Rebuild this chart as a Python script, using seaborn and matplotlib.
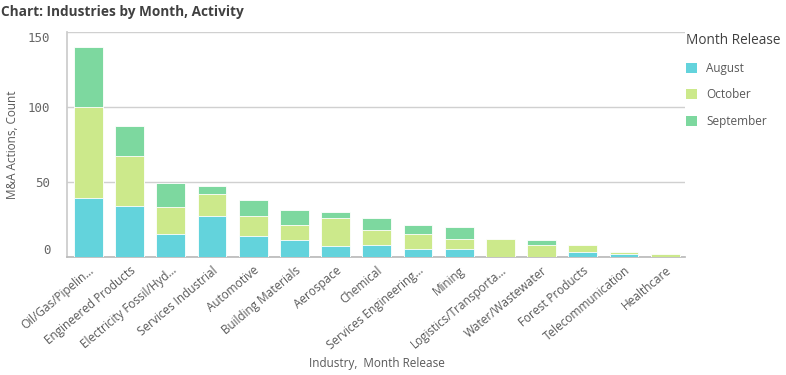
import matplotlib
matplotlib.use("Agg")
import matplotlib.pyplot as plt
import numpy as np
import pandas as pd
import seaborn as sns
from matplotlib.patches import Patch

industries = [
    "Oil/Gas/Pipelin…", "Engineered Products", "Electricity Fossil/Hyd…",
    "Services Industrial", "Automotive", "Building Materials", "Aerospace",
    "Chemical", "Services Engineering…", "Mining", "Logistics/Transporta…",
    "Water/Wastewater", "Forest Products", "Telecommunication", "Healthcare",
]
august = [39, 34, 15, 27, 14, 11, 7, 8, 5, 5, 0, 0, 3, 2, 0]
october = [61, 33, 18, 15, 13, 10, 19, 10, 10, 7, 12, 8, 5, 1, 2]
september = [40, 20, 16, 5, 11, 10, 4, 8, 6, 8, 0, 3, 0, 0, 0]

months = ["August", "October", "September"]
colors = {"August": "#63d3dc", "October": "#cce98b", "September": "#7dd89f"}

sns.set_theme(style="white")
plt.rcParams["font.family"] = ["Open Sans", "DejaVu Sans"]

df = pd.DataFrame({"Industry": industries, "August": august,
                   "October": october, "September": september})
df["lvl_aug"] = df["August"]
df["lvl_oct"] = df["August"] + df["October"]
df["lvl_sep"] = df["lvl_oct"] + df["September"]

fig = plt.figure(figsize=(7.86, 3.75), dpi=100)
ax = fig.add_axes([0.0852, 0.3147, 0.7863, 0.6])

# stacked look: draw cumulative totals back to front
for col, m in [("lvl_sep", "September"), ("lvl_oct", "October"), ("lvl_aug", "August")]:
    sns.barplot(data=df, x="Industry", y=col, color=colors[m], width=0.7,
                edgecolor="white", linewidth=0.6, saturation=1, ax=ax, zorder=3)

ax.set_xlim(-0.52, 14.48)
ax.set_ylim(0, 150)
ax.set_yticks([0, 50, 100, 150])
ax.yaxis.grid(True, color="#d0d0d0", linewidth=1)
ax.set_axisbelow(True)
for s in ["top", "right"]:
    ax.spines[s].set_visible(False)
ax.spines["left"].set_color("#cccccc")
ax.spines["bottom"].set_color("#bbbbbb")
ax.tick_params(axis="both", length=0, colors="#595959")
ax.tick_params(axis="y", pad=12)
ylabs = ax.get_yticklabels()
for lab in ylabs:
    lab.set_fontfamily("DejaVu Sans Mono")
    lab.set_fontsize(9)
    lab.set_color("#666666")
ylabs[0].set_va("bottom")
ylabs[-1].set_va("top")
ax.set_xticks(range(len(industries)))
ax.set_xticklabels(industries, rotation=40, ha="right", rotation_mode="anchor",
                   fontsize=8.5, color="#595959")
ax.tick_params(axis="x", pad=5)
ax.set_xlabel("")
ax.set_ylabel("")
fig.text(0.016, 0.615, "M&A Actions, Count", rotation=90, ha="center", va="center",
         fontsize=8.5, color="#595959")
fig.text(0.479, 0.022, "Industry,  Month Release", ha="center", fontsize=8.5, color="#595959")
fig.text(0.001, 0.957, "Chart: Industries by Month, Activity", fontsize=9.8,
         fontweight="bold", color="#404040")

handles = [Patch(facecolor=colors[m], edgecolor="none", label=m) for m in months]
leg = fig.legend(handles=handles, title="Month Release", loc="upper left",
                 bbox_to_anchor=(0.870, 0.918), frameon=False, fontsize=8.5,
                 title_fontsize=9.8, handlelength=0.9, handleheight=0.9,
                 labelspacing=1.15, handletextpad=0.8, borderpad=0.2,
                 borderaxespad=0)
leg._legend_box.align = "left"
for t in leg.get_texts():
    t.set_color("#595959")
leg.get_title().set_color("#404040")

fig.savefig("out.png", dpi=100)
